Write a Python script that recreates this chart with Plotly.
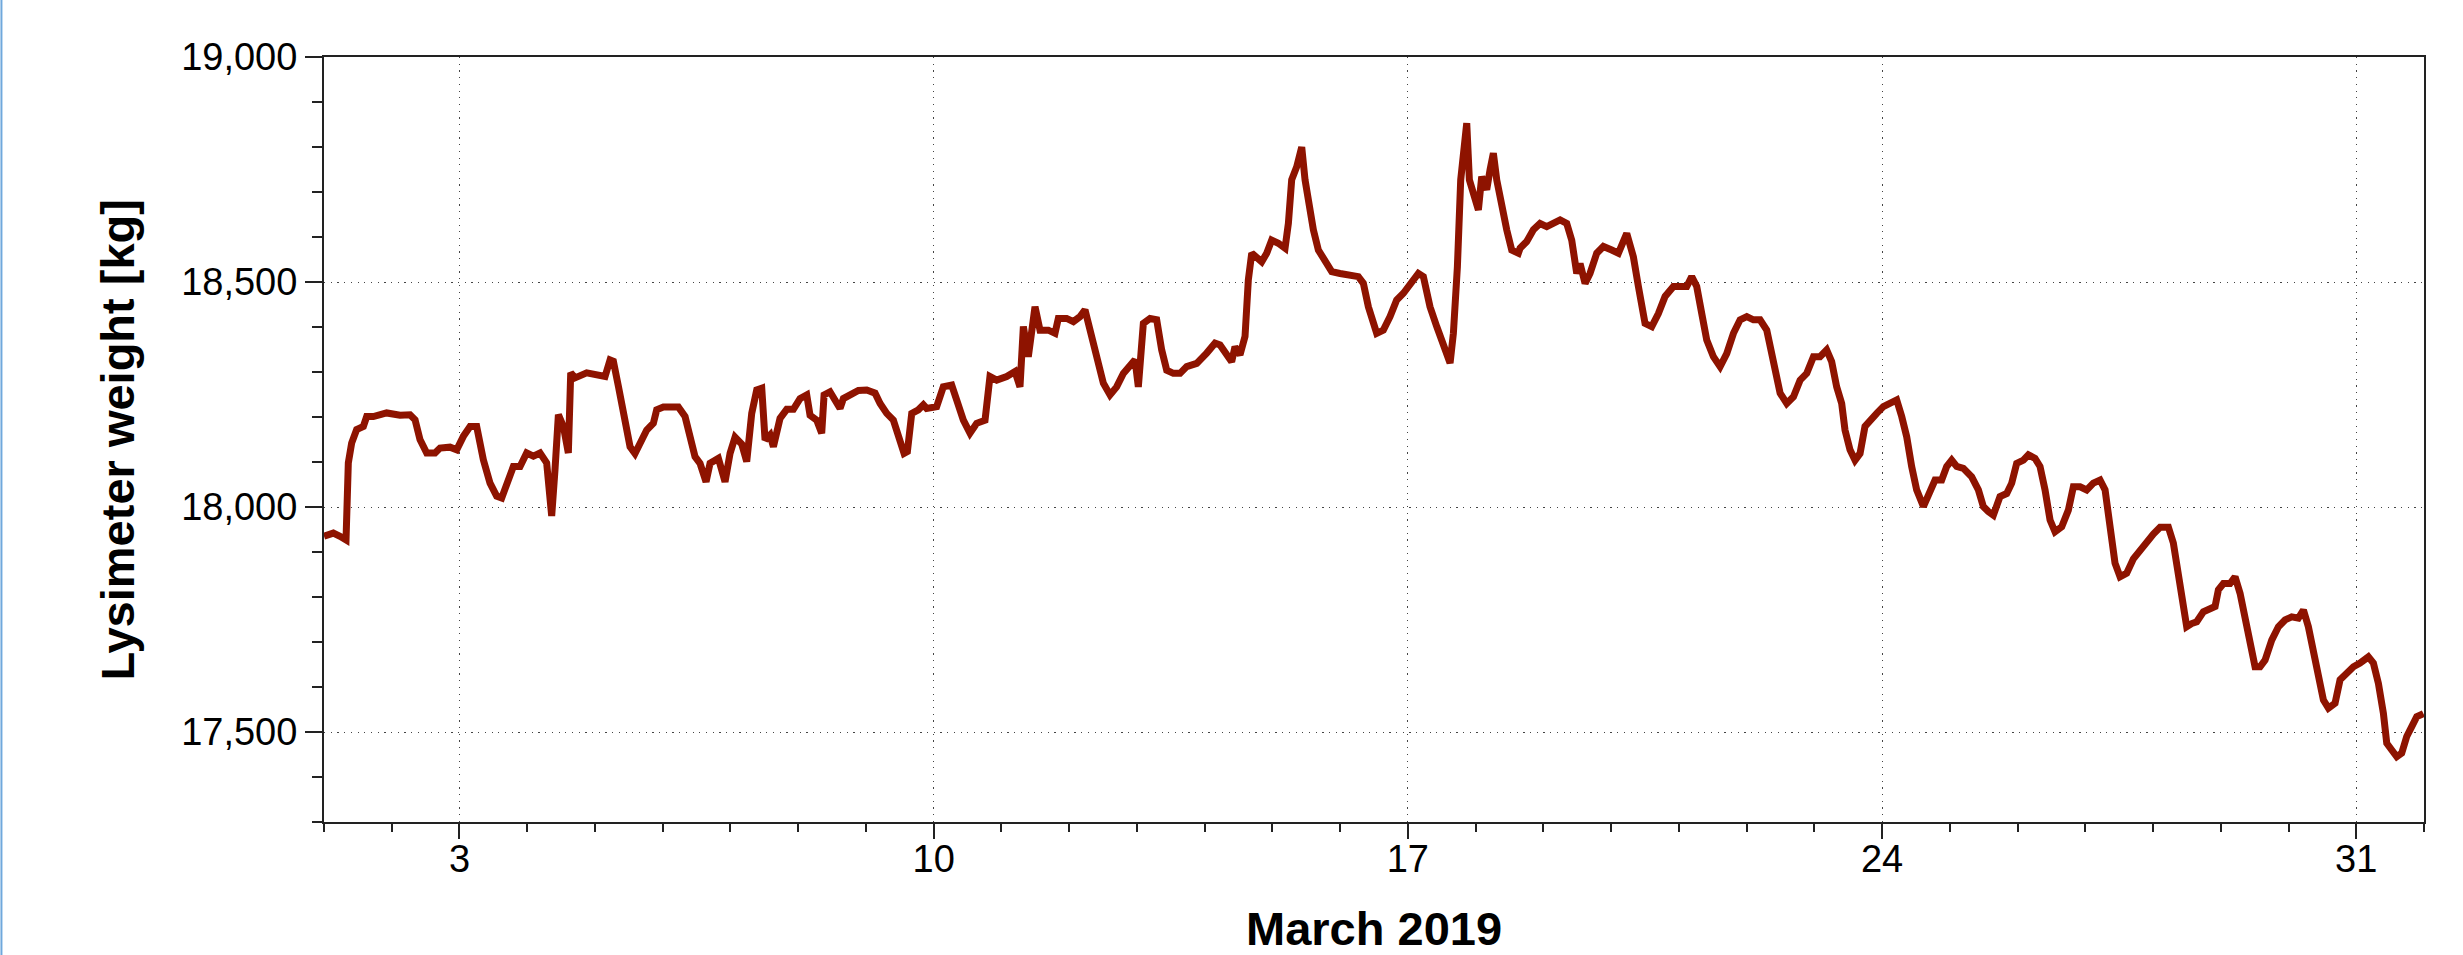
import pandas as pd
import plotly.graph_objects as go

# ---- data (days since 2019-03-01 00:00, weight in kg) ----
days_a = [0.0, 0.138, 0.236, 0.325, 0.359, 0.408, 0.482, 0.581, 0.630, 0.728, 0.925, 1.122, 1.270, 1.344,
          1.417, 1.516, 1.639, 1.713, 1.860, 1.959, 2.057, 2.156, 2.254, 2.352, 2.451, 2.549, 2.623, 2.697,
          2.795, 2.894, 2.992, 3.091, 3.189, 3.287, 3.361, 3.410, 3.460, 3.534, 3.607, 3.642, 3.706, 3.878,
          4.026, 4.149, 4.223, 4.272, 4.346, 4.420]
kg_a = [17935, 17942, 17935, 17927, 18098, 18142, 18172, 18179, 18201, 18201, 18209, 18204, 18205, 18194,
        18150, 18120, 18120, 18131, 18133, 18127, 18157, 18179, 18179, 18105, 18053, 18024, 18020, 18053,
        18090, 18090, 18120, 18113, 18120, 18098, 17980, 18083, 18205, 18179, 18120, 18298, 18287, 18298,
        18294, 18290, 18327, 18324, 18268, 18209]

days_b = [4.444, 4.518, 4.591, 4.665, 4.764, 4.862, 4.911, 5.010, 5.133, 5.231, 5.330, 5.403, 5.477, 5.551,
          5.640, 5.699, 5.822, 5.920, 5.994, 6.068, 6.166, 6.240, 6.314, 6.388, 6.462, 6.511, 6.585, 6.634,
          6.732, 6.831, 6.929, 7.027, 7.126, 7.175, 7.274, 7.347, 7.382, 7.470, 7.544, 7.618, 7.667, 7.766,
          7.889, 8.012, 8.135, 8.209, 8.307, 8.405, 8.504, 8.563, 8.612, 8.676, 8.774, 8.848]
kg_b = [18179, 18134, 18119, 18142, 18171, 18186, 18216, 18222, 18223, 18222, 18201, 18149, 18112, 18097,
        18056, 18097, 18108, 18056, 18119, 18155, 18140, 18101, 18208, 18260, 18264, 18149, 18160, 18134,
        18197, 18217, 18217, 18241, 18249, 18204, 18193, 18164, 18249, 18256, 18234, 18219, 18241, 18249,
        18259, 18260, 18253, 18230, 18208, 18193, 18149, 18119, 18123, 18208, 18216, 18227]

days_c = [8.896, 9.044, 9.142, 9.266, 9.339, 9.438, 9.536, 9.635, 9.758, 9.831, 9.930, 10.078, 10.201, 10.274,
          10.324, 10.397, 10.496, 10.570, 10.693, 10.791, 10.840, 10.963, 11.062, 11.160, 11.234, 11.308,
          11.406, 11.505, 11.603, 11.701, 11.800, 11.898, 11.972, 12.021, 12.095, 12.194, 12.292, 12.366,
          12.440, 12.538, 12.637, 12.735, 12.883, 13.030, 13.153]
kg_c = [18219, 18223, 18267, 18271, 18238, 18193, 18164, 18186, 18193, 18290, 18282, 18290, 18301, 18267,
        18401, 18334, 18445, 18393, 18393, 18386, 18419, 18419, 18412, 18423, 18438, 18393, 18327, 18275,
        18249, 18267, 18297, 18312, 18327, 18267, 18408, 18419, 18416, 18349, 18304, 18297, 18297, 18312,
        18319, 18342, 18364]

days_d = [13.227, 13.301, 13.399, 13.448, 13.522, 13.596, 13.645, 13.695, 13.768, 13.842, 13.916, 13.990,
          14.088, 14.187, 14.236, 14.285, 14.359, 14.433, 14.482, 14.531, 14.605, 14.679, 14.777, 14.876,
          14.999, 15.146, 15.269, 15.343, 15.417, 15.540, 15.638, 15.737, 15.835, 15.934, 16.032, 16.155,
          16.229, 16.327, 16.426, 16.524, 16.623, 16.672, 16.731, 16.780, 16.844, 16.869, 16.908, 16.967,
          17.041, 17.090, 17.164, 17.213, 17.262, 17.312, 17.385, 17.459, 17.533, 17.631]
kg_d = [18360, 18345, 18323, 18356, 18338, 18379, 18505, 18564, 18556, 18545, 18564, 18593, 18586, 18575,
        18630, 18727, 18756, 18800, 18727, 18675, 18616, 18571, 18545, 18523, 18519, 18516, 18512, 18497,
        18445, 18386, 18393, 18423, 18460, 18475, 18497, 18519, 18512, 18445, 18401, 18356, 18320, 18386,
        18534, 18727, 18801, 18853, 18727, 18690, 18660, 18734, 18705, 18749, 18786, 18727, 18667, 18616,
        18571, 18564]

days_e = [17.656, 17.754, 17.853, 17.951, 18.050, 18.148, 18.247, 18.345, 18.419, 18.493, 18.542, 18.616,
          18.689, 18.788, 18.886, 19.009, 19.108, 19.231, 19.329, 19.403, 19.501, 19.600, 19.698, 19.797,
          19.920, 20.018, 20.117, 20.190, 20.264, 20.338, 20.412, 20.510, 20.609, 20.707, 20.806, 20.904,
          21.003, 21.101, 21.199, 21.298, 21.396, 21.495, 21.593, 21.692, 21.790, 21.888, 21.987]
kg_e = [18575, 18590, 18616, 18630, 18623, 18630, 18638, 18630, 18593, 18519, 18541, 18497, 18519, 18564,
        18579, 18571, 18564, 18608, 18556, 18490, 18408, 18401, 18430, 18468, 18490, 18490, 18490, 18512,
        18490, 18430, 18371, 18334, 18312, 18341, 18386, 18416, 18423, 18416, 18416, 18393, 18327, 18253,
        18230, 18245, 18282, 18297, 18334]

days_f = [22.084, 22.182, 22.256, 22.330, 22.404, 22.453, 22.527, 22.601, 22.675, 22.748, 22.822, 22.921,
          23.019, 23.117, 23.216, 23.290, 23.364, 23.437, 23.511, 23.610, 23.708, 23.782, 23.880, 23.954,
          24.028, 24.102, 24.200, 24.323, 24.422, 24.495, 24.569, 24.643, 24.741, 24.840, 24.914, 24.987,
          25.086, 25.160, 25.258, 25.332, 25.406, 25.480, 25.553, 25.652, 25.750, 25.824, 25.923, 26.021,
          26.119, 26.218, 26.292, 26.365, 26.439]
kg_f = [18334, 18349, 18323, 18267, 18230, 18171, 18127, 18104, 18119, 18179, 18193, 18208, 18223, 18230,
        18238, 18201, 18156, 18090, 18038, 18001, 18030, 18060, 18060, 18090, 18104, 18090, 18086, 18067,
        18038, 18001, 17990, 17982, 18023, 18030, 18053, 18097, 18104, 18116, 18108, 18090, 18038, 17971,
        17945, 17956, 17993, 18045, 18045, 18038, 18053, 18060, 18038, 17956, 17875]

days_g = [26.513, 26.611, 26.710, 26.808, 26.907, 27.005, 27.104, 27.227, 27.300, 27.374, 27.448, 27.497,
          27.571, 27.645, 27.743, 27.842, 27.916, 27.965, 28.039, 28.137, 28.211, 28.285, 28.358, 28.432,
          28.506, 28.580, 28.654, 28.752, 28.851, 28.949, 29.047, 29.146, 29.220, 29.293, 29.367, 29.441,
          29.515, 29.589, 29.687, 29.761, 29.859, 29.958, 30.056, 30.179, 30.253, 30.327, 30.401, 30.450,
          30.524, 30.598, 30.671, 30.745, 30.819, 30.893, 30.991]
kg_g = [17845, 17853, 17885, 17905, 17925, 17940, 17955, 17955, 17920, 17853, 17779, 17734, 17741, 17745,
        17767, 17775, 17779, 17816, 17830, 17830, 17845, 17808, 17756, 17690, 17645, 17645, 17660, 17704,
        17734, 17749, 17756, 17753, 17771, 17734, 17682, 17630, 17571, 17553, 17564, 17616, 17630, 17645,
        17653, 17667, 17653, 17608, 17541, 17475, 17460, 17445, 17453, 17490, 17512, 17534, 17541]

tick_days = ["2019-03-03", "2019-03-10", "2019-03-17", "2019-03-24", "2019-03-31"]
tick_text = ["3", "10", "17", "24", "31"]
y_ticks = [17500, 18000, 18500, 19000]

# ---- assemble ----
segments = [(days_a, kg_a), (days_b, kg_b), (days_c, kg_c), (days_d, kg_d),
            (days_e, kg_e), (days_f, kg_f), (days_g, kg_g)]
days, kg = [], []
for d, w in segments:
    if len(d) != len(w):
        raise ValueError("length mismatch %d vs %d" % (len(d), len(w)))
    days += d
    kg += w

start = pd.Timestamp("2019-03-01")
times = [start + pd.Timedelta(days=d) for d in days]

LINE = "#8E1300"
AX = "#222222"
FONT = "Liberation Sans, Arial, Helvetica, sans-serif"

fig = go.Figure()
fig.add_trace(go.Scatter(x=times, y=kg, mode="lines",
                         line=dict(color=LINE, width=7, shape="linear"),
                         showlegend=False))

fig.update_layout(
    width=2463, height=955,
    margin=dict(l=324, r=39, t=57, b=133),
    paper_bgcolor="white", plot_bgcolor="white",
    font=dict(family=FONT, size=38, color="black"),
)

fig.update_xaxes(
    type="date",
    range=["2019-03-01", "2019-04-01"],
    tickvals=tick_days, ticktext=tick_text,
    ticks="outside", ticklen=15, tickwidth=1.5, tickcolor=AX,
    ticklabelstandoff=-13,
    showline=True, linecolor=AX, linewidth=2, mirror=True,
    showgrid=True, gridcolor="#444444", gridwidth=1.2, griddash="1.2px,5.5px",
    zeroline=False,
    tickfont=dict(size=38, family=FONT, color="black"),
    minor=dict(dtick=86400000, tick0="2019-03-01", ticks="outside", ticklen=8,
               tickwidth=1.5, tickcolor=AX, showgrid=False),
)
fig.update_yaxes(
    range=[17300, 19000],
    tickvals=y_ticks, tickformat=",d",
    ticks="outside", ticklen=17, tickwidth=1.5, tickcolor=AX,
    showline=True, linecolor=AX, linewidth=2, mirror=True,
    showgrid=True, gridcolor="#444444", gridwidth=1.2, griddash="1.2px,5.5px",
    zeroline=False,
    tickfont=dict(size=38, family=FONT, color="black"),
    minor=dict(dtick=100, tick0=17500, ticks="outside", ticklen=10,
               tickwidth=1.5, tickcolor=AX, showgrid=False),
)

fig.add_annotation(text="<b>Lysimeter weight [kg]</b>", xref="paper", yref="paper",
                   x=-0.0981, y=0.5, textangle=-90, showarrow=False,
                   xanchor="center", yanchor="middle",
                   font=dict(size=47, family=FONT, color="black"))
fig.add_annotation(text="<b>March 2019</b>", xref="paper", yref="paper",
                   x=0.5, y=-0.1386, showarrow=False,
                   xanchor="center", yanchor="middle",
                   font=dict(size=47, family=FONT, color="black"))

# thin blue border line at the far left edge of the image
fig.add_shape(type="line", xref="paper", yref="paper",
              x0=-0.1536, x1=-0.1536, y0=-0.18, y1=1.08,
              line=dict(color="#6FA8DC", width=2))

fig.write_html("out.html")
